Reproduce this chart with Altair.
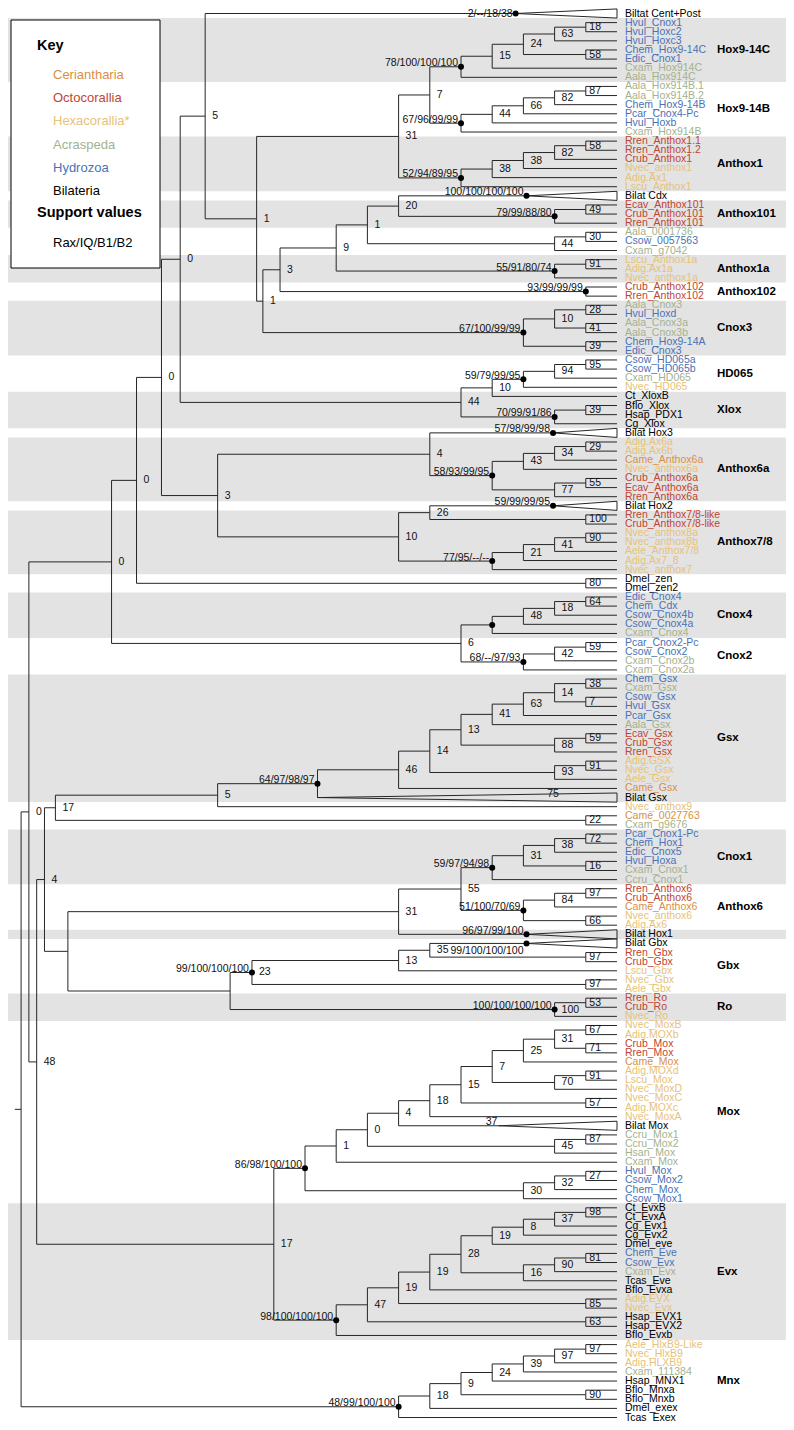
import altair as alt
import pandas as pd

# ---------------- data ----------------
GROUPS = ["Ceriantharia", "Octocorallia", "Hexacorallia*", "Acraspeda", "Hydrozoa", "Bilateria"]
GROUP_COLORS = ["#d98f45", "#bf4532", "#e6c27a", "#a3b28e", "#4a72b4", "#000000"]
PREFIX_GROUP = {
    "Came": "Ceriantharia",
    "Rren": "Octocorallia", "Crub": "Octocorallia", "Ecav": "Octocorallia",
    "Nvec": "Hexacorallia*", "Adig": "Hexacorallia*", "Lscu": "Hexacorallia*", "Aele": "Hexacorallia*",
    "Cxam": "Acraspeda", "Aala": "Acraspeda", "Ccru": "Acraspeda", "Hsan": "Acraspeda",
    "Hvul": "Hydrozoa", "Chem": "Hydrozoa", "Edic": "Hydrozoa", "Csow": "Hydrozoa", "Pcar": "Hydrozoa",
}

# collapsed bilaterian clades:
# name -> (hidden height, apex level (None = at parent), support, label below, support label level)
TRIANGLES = {
    "Biltat Cent+Post": (6, 3.25, "2/--/18/38", False, None),
    "Bilat Cdx": (6, 2.9, "100/100/100/100", False, None),
    "Bilat Hox3": (5, 2.05, "57/98/99/98", False, None),
    "Bilat Hox2": (5, 2.05, "59/99/99/95", False, None),
    "Bilat Gsx": (6, None, "75", False, 1.83),
    "Bilat Hox1": (6, 2.9, "96/97/99/100", False, None),
    "Bilat Gbx": (5, 2.9, "99/100/100/100", True, None),
    "Bilat Mox": (6, 3.8, "37", False, None),
}

# gene family bands: (label, first leaf, last leaf, shaded)
BANDS = [
    ("Hox9-14C", "Hvul_Cnox1", "Aala_Hox914C", True),
    ("Hox9-14B", "Aala_Hox914B.1", "Cxam_Hox914B", False),
    ("Anthox1", "Rren_Anthox1.1", "Lscu_Anthox1", True),
    ("Anthox101", "Ecav_Anthox101", "Rren_Anthox101", True),
    ("Anthox1a", "Lscu_Anthox1a", "Nvec_anthox1a", True),
    ("Anthox102", "Crub_Anthox102", "Rren_Anthox102", False),
    ("Cnox3", "Aala_Cnox3", "Edic_Cnox3", True),
    ("HD065", "Csow_HD065a", "Nvec_HD065", False),
    ("Xlox", "Ct_XloxB", "Cg_Xlox", True),
    ("Anthox6a", "Adig.Ax6a", "Rren_Anthox6a", True),
    ("Anthox7/8", "Rren_Anthox7/8-like", "Nvec_anthox7", True),
    ("Cnox4", "Edic_Cnox4", "Cxam_Cnox4", True),
    ("Cnox2", "Pcar_Cnox2-Pc", "Cxam_Cnox2a", False),
    ("Gsx", "Chem_Gsx", "Bilat Gsx", True),
    ("Cnox1", "Pcar_Cnox1-Pc", "Ccru_Cnox1", True),
    ("Anthox6", "Rren_Anthox6", "Adig.Ax6", False),
    ("", "Bilat Hox1", "Bilat Hox1", True),
    ("Gbx", "Bilat Gbx", "Aele_Gbx", False),
    ("Ro", "Rren_Ro", "Nvec_Ro", True),
    ("Mox", "Nvec_MoxB", "Csow_Mox1", False),
    ("Evx", "Ct_EvxB", "Bflo_Evxb", True),
    ("Mnx", "Aele_HlxB9-Like", "Tcas_Exex", False),
]

KEY_TITLE = "Key"
KEY_SUPPORT_TITLE = "Support values"
KEY_SUPPORT_TEXT = "Rax/IQ/B1/B2"


def C(label, *kids, h=None):
    return {"label": label, "kids": list(kids), "h": h}


# ---------------- topology ----------------
HOX914C = C("78/100/100/100",
            C("15", C("24", C("63", C("18", "Hvul_Cnox1", "Hvul_Hoxc2"), "Hvul_Hoxc3"),
                      C("58", "Chem_Hox9-14C", "Edic_Cnox1")), "Cxam_Hox914C"),
            "Aala_Hox914C")
HOX914B = C("67/96/99/99",
            C("44", C("66", C("82", C("87", "Aala_Hox914B.1", "Aala_Hox914B.2"), "Chem_Hox9-14B"),
                      "Pcar_Cnox4-Pc"), "Hvul_Hoxb"),
            "Cxam_Hox914B")
ANTHOX1 = C("52/94/89/95",
            C("38", C("38", C("82", C("58", "Rren_Anthox1.1", "Rren_Anthox1.2"), "Crub_Anthox1"),
                      "Nvec_anthox1"), "Adig.Ax1"),
            "Lscu_Anthox1")
ANTHOX101 = C("79/99/88/80", C("49", "Ecav_Anthox101", "Crub_Anthox101"), "Rren_Anthox101")
MISC44 = C("44", C("30", "Aala_0001736", "Csow_0057563"), "Cxam_g7042")
ANTHOX1A = C("55/91/80/74", C("91", "Lscu_Anthox1a", "Adig.Ax1a"), "Nvec_anthox1a")
ANTHOX102 = C("93/99/99/99", "Crub_Anthox102", "Rren_Anthox102")
CNOX3 = C("67/100/99/99",
          C("10", C("28", "Aala_Cnox3", "Hvul_Hoxd"), C("41", "Aala_Cnox3a", "Aala_Cnox3b")),
          C("39", "Chem_Hox9-14A", "Edic_Cnox3"))
HD065 = C("59/79/99/95", C("94", C("95", "Csow_HD065a", "Csow_HD065b"), "Cxam_HD065"), "Nvec_HD065")
XLOX = C("70/99/91/86", C("39", "Bflo_Xlox", "Hsap_PDX1"), "Cg_Xlox")
HDXL = C("44", C("10", HD065, "Ct_XloxB"), XLOX)
ANTHOX6A = C("58/93/99/95",
             C("43", C("34", C("29", "Adig.Ax6a", "Adig.Ax6b"), "Came_Anthox6a"), "Nvec_anthox6a"),
             C("77", C("55", "Crub_Anthox6a", "Ecav_Anthox6a"), "Rren_Anthox6a"))
ANTHOX78 = C("77/95/--/--",
             C("21", C("41", C("90", "Nvec_anthox8a", "Nvec_anthox8b"), "Aele_Anthox7/8"), "Adig.Ax7_8"),
             "Nvec_anthox7")
HOX3 = C("4", "Bilat Hox3", ANTHOX6A)
HOX2 = C("10", C("26", "Bilat Hox2", C("100", "Rren_Anthox7/8-like", "Crub_Anthox7/8-like")), ANTHOX78)
ZEN = C("80", "Dmel_zen", "Dmel_zen2")
CNOX4 = C("*", C("48", C("18", C("64", "Edic_Cnox4", "Chem_Cdx"), "Csow_Cnox4b"), "Csow_Cnox4a"), "Cxam_Cnox4")
CNOX2 = C("68/--/97/93", C("42", C("59", "Pcar_Cnox2-Pc", "Csow_Cnox2"), "Cxam_Cnox2b"), "Cxam_Cnox2a")
GSX = C("46",
        C("14",
          C("13",
            C("41", C("63", C("14", C("38", "Chem_Gsx", "Cxam_Gsx"), C("7", "Csow_Gsx", "Hvul_Gsx")),
                      "Pcar_Gsx"), "Aala_Gsx"),
            C("88", C("59", "Ecav_Gsx", "Crub_Gsx"), "Rren_Gsx")),
          C("93", C("91", "Adig.GSX", "Nvec_Gsx"), "Aele_Gsx")),
        "Came_Gsx")
CNOX1 = C("59/97/94/98",
          C("31", C("38", C("72", "Pcar_Cnox1-Pc", "Chem_Hox1"), "Edic_Cnox5"),
            C("16", "Hvul_Hoxa", "Cxam_Cnox1")),
          "Ccru_Cnox1")
ANTHOX6 = C("51/100/70/69",
            C("84", C("97", "Rren_Anthox6", "Crub_Anthox6"), "Came_Anthox6"),
            C("66", "Nvec_anthox6", "Adig.Ax6"))
HOX1 = C("31", C("55", CNOX1, ANTHOX6), "Bilat Hox1")
GBX = C("99/100/100/100|23",
        C("13", C("35", "Bilat Gbx", C("97", "Rren_Gbx", "Crub_Gbx")), "Lscu_Gbx"),
        C("97", "Nvec_Gbx", "Aele_Gbx"), h=11.7)
RO = C("100/100/100/100|100", C("53", "Rren_Ro", "Crub_Ro"), "Nvec_Ro")
MOX = C("86/98/100/100",
        C("1",
          C("0",
            C("4",
              C("18",
                C("15",
                  C("7",
                    C("25", C("31", C("67", "Nvec_MoxB", "Adig.MOXb"), C("71", "Crub_Mox", "Rren_Mox")),
                      "Came_Mox"),
                    C("70", C("91", "Adig.MOXd", "Lscu_Mox"), "Nvec_MoxD")),
                  C("57", "Nvec_MoxC", "Adig.MOXc")),
                "Nvec_MoxA"),
              "Bilat Mox"),
            C("45", C("87", "Ccru_Mox1", "Ccru_Mox2"), "Hsan_Mox")),
          "Cxam_Mox"),
        C("30", C("32", C("27", "Hvul_Mox", "Csow_Mox2"), "Chem_Mox"), "Csow_Mox1"))
EVX = C("98/100/100/100",
        C("47",
          C("19",
            C("19",
              C("28",
                C("19", C("8", C("37", C("98", "Ct_EvxB", "Ct_EvxA"), "Cg_Evx1"), "Cg_Evx2"), "Dmel_eve"),
                C("16", C("90", C("81", "Chem_Eve", "Csow_Evx"), "Cxam_Evx"), "Tcas_Eve")),
              "Bflo_Evxa"),
            C("85", "Adig.EVX", "Nvec_Evx")),
          C("63", "Hsap_EVX1", "Hsap_EVX2")),
        "Bflo_Evxb")
MNX = C("48/99/100/100",
        C("18", C("9", C("24", C("39", C("97", C("97", "Aele_HlxB9-Like", "Nvec_HlxB9"), "Adig.HLXB9"),
                                 "Cxam_111384"), "Hsap_MNX1"),
                  C("90", "Bflo_Mnxa", "Bflo_Mnxb")),
          "Dmel_exex"),
        "Tcas_Exex")

# backbone (levels of the deep nodes)
N9 = C("9", C("1", C("20", "Bilat Cdx", ANTHOX101), MISC44), ANTHOX1A)
N3 = C("3", N9, ANTHOX102, h=10.8)
NQ = C("1", N3, CNOX3, h=11.35)
NP = C("1", C("31", C("7", HOX914C, HOX914B), ANTHOX1), NQ, h=11.55)
N5 = C("5", "Biltat Cent+Post", NP, h=13.2)
TOP = C("0", N5, HDXL, h=14.0)
MID = C("3", HOX3, HOX2, h=12.8)
UPPER = C("0", C("0", C("0", TOP, MID, h=14.6), ZEN, h=15.4), C("6", CNOX4, CNOX2), h=16.2)
GSXALL = C("5", C("64/97/98/97", GSX, "Bilat Gsx", h=9.6), "Nvec_anthox9", h=12.8)
G22 = C("17", GSXALL, C("22", "Came_0027763", "Cxam_g9676"), h=18.0)
HGR = C("", HOX1, C("", GBX, RO, h=12.4), h=17.6)
N48 = C("48", C("4", G22, HGR, h=18.35), C("17", MOX, EVX, h=11.0), h=18.6)
ROOT = C("", C("0", UPPER, N48, h=18.85), MNX, h=19.1)

# ---------------- layout (pixel geometry of the page) ----------------
W, H = 778, 1414
TIP_PX = 609.0
STEP = 31.2
Y0 = 5.5
DY = 9.117

leaves, segs, tris, dots, rlabels, llabels = [], [], [], [], [], []


def left_label_y(y, below):
    py = Y0 + y * DY + (7.5 if below else -3.5)
    return (max(py, 5.5) - Y0) / DY


def add_support(text, lvl, y, below=False):
    if not text:
        return
    parts = text.split("|")
    left = parts[0]
    if "/" in left or left == "*":
        dots.append({"x": -lvl, "y": y})
        if left != "*":
            llabels.append({"x": -lvl - 3.0 / STEP, "y": left_label_y(y, below), "t": left})
    else:
        rlabels.append({"x": -lvl + (3.5 if lvl <= 1.01 else 7.0) / STEP, "y": y, "t": left})
    if len(parts) > 1:
        rlabels.append({"x": -lvl + 7.0 / STEP, "y": y, "t": parts[1]})


def lay(node, parent_h=None):
    if isinstance(node, str):
        i = len(leaves)
        leaves.append(node)
        if node in TRIANGLES:
            eff, apex, sup, below, lab_lvl = TRIANGLES[node]
            if apex is None:
                apex = parent_h
            tid = len(tris)
            for o, (lx, ly) in enumerate([(-apex, i), (0, i - 0.5), (0, i + 0.5), (-apex, i)]):
                tris.append({"id": tid, "o": o, "x": lx, "y": ly})
            at = apex if lab_lvl is None else lab_lvl
            if "/" in sup:
                dots.append({"x": -apex, "y": i})
                llabels.append({"x": -at - 3.0 / STEP, "y": left_label_y(i, below), "t": sup})
            else:
                llabels.append({"x": -at - 1.0 / STEP, "y": left_label_y(i, False), "t": sup})
            return {"y": i, "h": eff, "d": apex}
        return {"y": i, "h": 0, "d": 0}
    h_fixed = node["h"]
    kids = [lay(k, h_fixed) for k in node["kids"]]
    h = h_fixed if h_fixed is not None else max(k["h"] for k in kids) + 1
    y = (kids[0]["y"] + kids[-1]["y"]) / 2.0
    segs.append({"x": -h, "x2": -h, "y": kids[0]["y"], "y2": kids[-1]["y"]})
    for k in kids:
        if k["d"] < h:
            segs.append({"x": -h, "x2": -k["d"], "y": k["y"], "y2": k["y"]})
    add_support(node["label"], h, y)
    return {"y": y, "h": h, "d": h}


root = lay(ROOT)
segs.append({"x": -root["h"] - 0.2, "x2": -root["h"], "y": root["y"], "y2": root["y"]})


def group_of(name):
    p = name.split("_")[0].split(".")[0]
    return PREFIX_GROUP.get(p, "Bilateria")


leaf_df = pd.DataFrame({"x": 0.0, "y": range(len(leaves)), "t": leaves,
                        "g": [group_of(n) for n in leaves]})
pos = {n: i for i, n in enumerate(leaves)}
band_df = pd.DataFrame([{"y0": pos[a] - 0.5, "y1": pos[b] + 0.5, "t": lab, "ym": (pos[a] + pos[b]) / 2.0,
                         "shade": s} for lab, a, b, s in BANDS])

xs = alt.Scale(domain=[-TIP_PX / STEP, (W - TIP_PX) / STEP], nice=False, zero=False)
ys = alt.Scale(domain=[-Y0 / DY, (H - Y0) / DY], nice=False, zero=False, reverse=True)
X = lambda f="x": alt.X(f + ":Q", scale=xs, axis=None)
Y = lambda f="y": alt.Y(f + ":Q", scale=ys, axis=None)
FONT = "Liberation Sans"
LINE = "#262626"

bands = alt.Chart(band_df[band_df.shade]).mark_rect(color="#e3e3e3").encode(
    y=Y("y0"), y2="y1:Q", x=alt.value(0), x2=alt.value(W))

key_box = alt.Chart(pd.DataFrame({"a": [0]})).mark_rect(
    fill="white", stroke="black", strokeWidth=1).encode(
    x=alt.value(3), x2=alt.value(152), y=alt.value(12), y2=alt.value(260))

seg_layer = alt.Chart(pd.DataFrame(segs)).mark_rule(color=LINE, strokeWidth=1).encode(
    x=X(), x2="x2:Q", y=Y(), y2="y2:Q")
tri_layer = alt.Chart(pd.DataFrame(tris)).mark_line(color=LINE, strokeWidth=1).encode(
    x=X(), y=Y(), detail="id:N", order="o:Q")
dot_layer = alt.Chart(pd.DataFrame(dots)).mark_circle(size=36, color="black", opacity=1).encode(
    x=X(), y=Y())
rlab = alt.Chart(pd.DataFrame(rlabels)).mark_text(
    align="left", baseline="middle", fontSize=10.5, font=FONT, color="#111").encode(
    x=X(), y=Y(), text="t:N")
llab = alt.Chart(pd.DataFrame(llabels)).mark_text(
    align="right", baseline="middle", fontSize=10.5, font=FONT, color="#111").encode(
    x=X(), y=Y(), text="t:N")
leaf_lab = alt.Chart(leaf_df).mark_text(
    align="left", baseline="middle", dx=8, fontSize=10.5, font=FONT).encode(
    x=X(), y=Y(), text="t:N",
    color=alt.Color("g:N", scale=alt.Scale(domain=GROUPS, range=GROUP_COLORS), legend=None))
band_lab = alt.Chart(band_df[band_df.t != ""]).mark_text(
    align="left", baseline="middle", fontSize=11.5, fontWeight="bold", font=FONT, color="black").encode(
    x=alt.value(709), y=Y("ym"), text="t:N")

key_rows = pd.DataFrame({"t": GROUPS, "c": GROUP_COLORS, "py": [67, 90, 113, 137, 160, 183]})
key_items = alt.Chart(key_rows).mark_text(
    align="left", baseline="middle", fontSize=13, font=FONT).encode(
    x=alt.value(45), y=alt.Y("py:Q", scale=None), text="t:N", color=alt.Color("c:N", scale=None))
key_heads = alt.Chart(pd.DataFrame({"t": [KEY_TITLE, KEY_SUPPORT_TITLE], "py": [38, 205]})).mark_text(
    align="left", baseline="middle", fontSize=14.5, fontWeight="bold", font=FONT, color="black").encode(
    x=alt.value(29), y=alt.Y("py:Q", scale=None), text="t:N")
key_sup = alt.Chart(pd.DataFrame({"t": [KEY_SUPPORT_TEXT], "py": [235]})).mark_text(
    align="left", baseline="middle", fontSize=13, font=FONT, color="black").encode(
    x=alt.value(45), y=alt.Y("py:Q", scale=None), text="t:N")

chart = alt.layer(
    bands, key_box, seg_layer, tri_layer, dot_layer, rlab, llab, leaf_lab, band_lab,
    key_items, key_heads, key_sup
).properties(
    width=W, height=H, autosize=alt.AutoSizeParams(type="none"), padding=0
).configure_view(strokeWidth=0)

chart.save("out.html", embed_options={"renderer": "svg", "actions": False})
